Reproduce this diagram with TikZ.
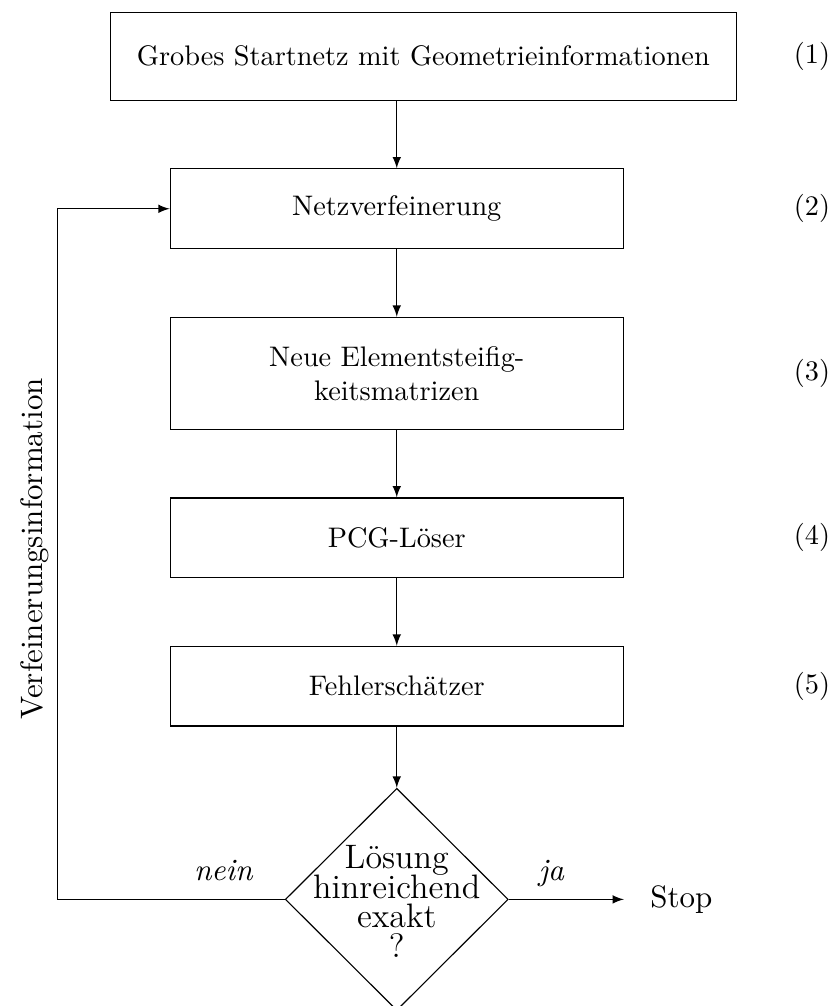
\documentclass[11pt,tikz,border=0pt]{standalone}
\usetikzlibrary{positioning,shapes.geometric}
\begin{document}
\begin{tikzpicture}[node distance=8.4mm,
  boxnode/.style={draw,rectangle,minimum width=56.3mm,minimum height=9.9mm,align=center,font=\small},
  asknode/.style={draw,diamond,minimum width=27.7mm,minimum height=27.6mm,inner sep=0pt},
  numnode/.style={inner sep=0pt,font=\small},
  answer/.style={above=3pt,font=\itshape,text depth=0pt},
  flow/.style={-latex}]
\useasboundingbox (0,0) rectangle (10.35,-12.50);
\node[boxnode,minimum width=77.8mm,minimum height=10.9mm] (start) at (5.26,-0.70) {Grobes Startnetz mit Geometrieinformationen};
\node[boxnode] (refine) [below=of start,xshift=-3.3mm] {Netzverfeinerung};
\node[boxnode,minimum height=13.9mm] (stiff) [below=of refine] {Neue Elementsteifig-\\keitsmatrizen};
\node[boxnode] (solve) [below=of stiff] {PCG-Löser};
\node[boxnode] (error) [below=of solve] {Fehlerschätzer};
\node[asknode,label={[align=center,font=\large,yshift=-0.7pt]center:Lösung\\[-3.5pt]hinreichend\\[-3.5pt]exakt\\[-3.5pt]?}] (check) [below=7.6mm of error] {};
\node[inner xsep=9.2pt] (stop) [right=14.3mm of check] {Stop};
% Nummern rechts
\node[numnode] (n1) at (10.09,-0.70) {(1)};
\node[numnode] (n2) at (n1 |- refine) {(2)};
\node[numnode] (n3) at (n1 |- stiff) {(3)};
\node[numnode] (n4) at (n1 |- solve) {(4)};
\node[numnode] (n5) at (n1 |- error) {(5)};
% Pfeile
\draw[flow] (start.south -| refine) -- (refine);
\draw[flow] (refine) -- (stiff);
\draw[flow] (stiff) -- (solve);
\draw[flow] (solve) -- (error);
\draw[flow] (error) -- (check);
\draw[flow] (check) -- node[answer,pos=0.37] {ja} (stop);
\coordinate (rail) at (0.71,0);
\draw[flow] (check.west) -- node[answer,pos=0.27] {nein} (check.west -| rail) |- (refine.west);
\node[rotate=90] (info) at (0.43,-6.82) {Verfeinerungsinformation};
\end{tikzpicture}
\end{document}
